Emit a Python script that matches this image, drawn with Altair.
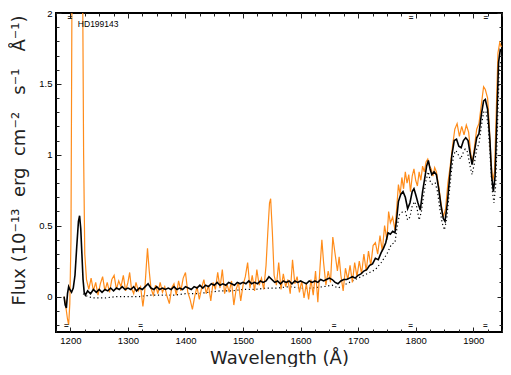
import altair as alt
import pandas as pd

# ---------------- data ----------------
star_name = "HD199143"

obs_wl = [1189, 1191, 1193, 1195, 1197, 1199, 1201, 1203, 1206, 1212, 1218, 1221, 1223, 1225, 1228,
          1232, 1236, 1240, 1244, 1248, 1252, 1256, 1260, 1264, 1268, 1272, 1276, 1280, 1284, 1288,
          1292, 1296, 1300, 1303, 1306, 1310, 1314, 1318, 1322, 1326, 1329, 1332, 1334, 1337, 1340,
          1344, 1348, 1352, 1356, 1360, 1364, 1368, 1372, 1376, 1380, 1384, 1388, 1392, 1396, 1400,
          1404, 1408, 1412, 1416, 1420, 1424, 1428, 1432, 1436, 1440, 1444, 1448, 1452, 1456, 1460,
          1464, 1468, 1472, 1476, 1480, 1484, 1488, 1492, 1496, 1500, 1504, 1508, 1512, 1516, 1520,
          1524, 1528, 1532, 1536, 1540, 1543, 1546, 1548, 1551, 1554, 1558, 1562, 1566, 1570, 1574,
          1578, 1582, 1586, 1590, 1594, 1598, 1602, 1606, 1610, 1614, 1618, 1622, 1626, 1630, 1634,
          1637, 1640, 1644, 1648, 1652, 1656, 1660, 1664, 1667, 1670, 1674, 1678, 1682, 1686, 1690,
          1694, 1698, 1702, 1706, 1710, 1714, 1718, 1722, 1726, 1730, 1734, 1738, 1742, 1746, 1750,
          1753, 1756, 1760, 1764, 1767, 1770, 1773, 1776, 1779, 1782, 1785, 1788, 1791, 1794, 1797,
          1800, 1803, 1806, 1809, 1812, 1815, 1818, 1821, 1824, 1827, 1830, 1833, 1836, 1840, 1844,
          1848, 1852, 1856, 1860, 1864, 1868, 1872, 1876, 1880, 1884, 1888, 1892, 1896, 1899, 1902,
          1906, 1910, 1914, 1918, 1921, 1925, 1928, 1931, 1934, 1937, 1940, 1943, 1946, 1949]
obs_flux = [0.00, -0.04, -0.10, -0.16, -0.20, -0.05, 0.40, 2.40, 4.00, 5.00, 4.00, 2.40, 1.00, 0.30, 0.12,
            0.05, 0.13, 0.04, 0.10, 0.01, 0.09, 0.14, 0.04, 0.10, 0.03, 0.12, 0.15, 0.05, 0.11, 0.07,
            0.15, 0.04, 0.10, 0.17, 0.06, 0.02, 0.10, 0.04, 0.07, -0.07, 0.03, 0.22, 0.34, 0.18, 0.06,
            0.01, 0.08, 0.02, 0.10, 0.03, 0.07, 0.00, -0.05, 0.06, 0.09, 0.01, 0.11, 0.04, 0.13, 0.17,
            0.03, -0.02, -0.09, 0.00, 0.07, -0.02, 0.06, 0.12, 0.02, 0.08, -0.03, 0.10, 0.05, 0.17, 0.06,
            0.19, 0.02, 0.09, 0.03, 0.11, -0.06, 0.05, 0.10, -0.03, 0.08, 0.14, 0.24, 0.06, 0.15, 0.04,
            0.19, 0.08, 0.13, 0.05, 0.22, 0.45, 0.66, 0.69, 0.45, 0.15, 0.08, 0.24, 0.05, 0.16, 0.07,
            0.12, 0.02, 0.26, 0.09, 0.14, 0.03, 0.11, -0.01, 0.09, -0.02, 0.12, 0.01, 0.18, -0.04, 0.22,
            0.40, 0.24, 0.08, 0.18, 0.10, 0.42, 0.30, 0.18, 0.28, 0.15, 0.04, 0.20, 0.12, 0.22, 0.10,
            0.24, 0.14, 0.25, 0.16, 0.30, 0.18, 0.32, 0.22, 0.36, 0.38, 0.30, 0.43, 0.32, 0.50, 0.40,
            0.60, 0.52, 0.56, 0.47, 0.62, 0.79, 0.72, 0.84, 0.76, 0.88, 0.80, 0.86, 0.74, 0.85, 0.90,
            0.82, 0.78, 0.88, 0.82, 0.92, 0.88, 0.95, 0.97, 0.92, 0.90, 0.85, 0.91, 0.88, 0.78, 0.66,
            0.56, 0.62, 0.80, 0.92, 1.06, 1.18, 1.22, 1.13, 1.20, 1.14, 1.21, 1.16, 1.00, 0.95, 1.05,
            1.18, 1.22, 1.35, 1.48, 1.46, 1.40, 1.20, 0.95, 0.82, 0.88, 1.30, 1.72, 1.79, 1.76]

smooth_wl = [1189, 1191, 1193, 1195, 1197, 1199, 1202, 1205, 1208, 1211, 1214, 1216, 1218, 1220, 1222,
             1224, 1226, 1230, 1235, 1240, 1245, 1250, 1255, 1260, 1265, 1270, 1275, 1280, 1285, 1290,
             1295, 1300, 1305, 1310, 1315, 1320, 1325, 1330, 1335, 1340, 1345, 1350, 1355, 1360, 1365,
             1370, 1375, 1380, 1385, 1390, 1395, 1400, 1405, 1410, 1415, 1420, 1425, 1430, 1435, 1440,
             1445, 1450, 1455, 1460, 1465, 1470, 1475, 1480, 1485, 1490, 1495, 1500, 1505, 1510, 1515,
             1520, 1525, 1530, 1535, 1540, 1545, 1550, 1555, 1560, 1565, 1570, 1575, 1580, 1585, 1590,
             1595, 1600, 1605, 1610, 1615, 1620, 1625, 1630, 1635, 1640, 1645, 1650, 1655, 1660, 1665,
             1670, 1675, 1680, 1685, 1690, 1695, 1700, 1705, 1710, 1715, 1720, 1725, 1730, 1735, 1740,
             1744, 1748, 1752, 1756, 1760, 1764, 1767, 1770, 1774, 1778, 1782, 1786, 1790, 1794, 1797,
             1800, 1804, 1808, 1812, 1816, 1819, 1822, 1825, 1828, 1832, 1836, 1840, 1844, 1848, 1851,
             1855, 1859, 1863, 1867, 1871, 1875, 1879, 1883, 1887, 1891, 1895, 1898, 1902, 1906, 1910,
             1914, 1918, 1921, 1925, 1929, 1932, 1935, 1938, 1941, 1944, 1947, 1950]
smooth_flux = [0.00, -0.06, -0.08, 0.02, 0.07, 0.05, 0.03, 0.06, 0.15, 0.35, 0.53, 0.57, 0.48, 0.30, 0.12,
               0.03, 0.01, 0.04, 0.02, 0.05, 0.03, 0.05, 0.03, 0.05, 0.04, 0.06, 0.04, 0.06, 0.05, 0.07,
               0.05, 0.06, 0.05, 0.07, 0.04, 0.06, 0.05, 0.07, 0.09, 0.06, 0.05, 0.07, 0.05, 0.06, 0.05,
               0.06, 0.05, 0.07, 0.05, 0.06, 0.05, 0.07, 0.06, 0.05, 0.07, 0.06, 0.08, 0.06, 0.08, 0.07,
               0.09, 0.08, 0.10, 0.08, 0.09, 0.08, 0.10, 0.09, 0.08, 0.10, 0.09, 0.10, 0.09, 0.11, 0.09,
               0.10, 0.09, 0.11, 0.10, 0.11, 0.14, 0.12, 0.10, 0.11, 0.09, 0.11, 0.10, 0.11, 0.09, 0.11,
               0.10, 0.11, 0.10, 0.09, 0.11, 0.10, 0.11, 0.10, 0.12, 0.11, 0.12, 0.13, 0.12, 0.10, 0.09,
               0.11, 0.12, 0.12, 0.13, 0.14, 0.13, 0.15, 0.16, 0.18, 0.19, 0.22, 0.23, 0.27, 0.26, 0.31,
               0.34, 0.38, 0.45, 0.44, 0.46, 0.45, 0.55, 0.67, 0.72, 0.74, 0.70, 0.62, 0.66, 0.74, 0.76,
               0.72, 0.66, 0.61, 0.74, 0.84, 0.92, 0.96, 0.90, 0.86, 0.88, 0.86, 0.76, 0.64, 0.55, 0.53,
               0.66, 0.84, 1.00, 1.10, 1.11, 1.06, 1.05, 1.10, 1.12, 1.10, 1.00, 0.93, 1.02, 1.12, 1.15,
               1.28, 1.38, 1.39, 1.32, 1.10, 0.85, 0.74, 0.85, 1.25, 1.65, 1.74, 1.73]

model_wl = [1222, 1230, 1240, 1260, 1280, 1300, 1320, 1340, 1360, 1380, 1400, 1420, 1440, 1460, 1480,
            1500, 1520, 1540, 1560, 1580, 1600, 1620, 1640, 1655, 1665, 1675, 1690, 1700, 1710, 1720,
            1730, 1740, 1750, 1758, 1764, 1768, 1772, 1778, 1782, 1786, 1790, 1794, 1798, 1802, 1806,
            1810, 1814, 1818, 1822, 1826, 1830, 1834, 1838, 1842, 1846, 1850, 1854, 1858, 1862, 1866,
            1870, 1874, 1878, 1882, 1886, 1890, 1894, 1898, 1902, 1906, 1910, 1914, 1918, 1922, 1926,
            1930, 1933, 1936, 1939, 1942, 1945, 1948]
model_flux = [0.02, 0.00, -0.01, -0.01, 0.00, 0.00, 0.00, 0.01, 0.01, 0.01, 0.02, 0.02, 0.03, 0.04, 0.04,
              0.05, 0.05, 0.06, 0.06, 0.07, 0.06, 0.06, 0.07, 0.08, 0.06, 0.08, 0.11, 0.13, 0.15, 0.17,
              0.19, 0.24, 0.30, 0.37, 0.38, 0.50, 0.58, 0.60, 0.60, 0.54, 0.56, 0.64, 0.67, 0.63, 0.54,
              0.60, 0.72, 0.82, 0.88, 0.80, 0.79, 0.80, 0.74, 0.62, 0.52, 0.47, 0.55, 0.72, 0.88, 1.00,
              1.03, 1.00, 0.97, 1.01, 1.04, 1.02, 0.93, 0.86, 0.94, 1.04, 1.08, 1.20, 1.30, 1.31, 1.20,
              0.95, 0.75, 0.66, 0.78, 1.18, 1.58, 1.67]

flag_bottom_wl = [1193, 1322, 1658, 1791, 1921]
flag_top_wl = [1199, 1792, 1922]

x_major = [1200, 1300, 1400, 1500, 1600, 1700, 1800, 1900]
x_minor = [1175 + 25 * i for i in range(32)]
y_major = [0, 0.5, 1, 1.5, 2]
y_minor = [round(-0.2 + 0.1 * i, 1) for i in range(23)]

# ---------------- layout ----------------
W, H = 446, 319
xs = alt.Scale(domain=[1175, 1950], nice=False, zero=False)
ys = alt.Scale(domain=[-0.25, 2], nice=False, zero=False)
LABEL_FONT = "Liberation Sans"
TITLE_FONT = "DejaVu Sans"
NB = "\u00a0"

obs_df = pd.DataFrame({"wl": obs_wl, "flux": obs_flux})
smooth_df = pd.DataFrame({"wl": smooth_wl, "flux": smooth_flux})
model_df = pd.DataFrame({"wl": model_wl, "flux": model_flux})
fb_df = pd.DataFrame({"wl": flag_bottom_wl, "flux": [-0.208] * len(flag_bottom_wl)})
ft_df = pd.DataFrame({"wl": flag_top_wl, "flux": [1.965] * len(flag_top_wl)})
name_df = pd.DataFrame({"wl": [1213], "flux": [1.92], "t": [star_name]})

y_title = ("Flux (10⁻¹³" + NB * 2 + "erg" + NB * 2 + "cm⁻²" + NB * 3 + "s⁻¹"
           + NB * 3 + "Å⁻¹)")


def tick_axis(orient, values, size, offset):
    return alt.Axis(orient=orient, values=values, tickSize=size, offset=offset,
                    labels=False, domain=False, grid=False, title=None,
                    tickColor="#222", tickWidth=1)


x_label_axis = alt.Axis(orient="bottom", values=x_major, format="d", ticks=False, domain=False,
                        grid=False, labelFont=LABEL_FONT, labelFontSize=9.5, labelColor="black",
                        labelPadding=3, title="Wavelength (Å)", titleFont=TITLE_FONT,
                        titleFontSize=18, titleFontWeight="normal", titleColor="#222",
                        titleX=W / 2, titleY=31, titleBaseline="alphabetic", titleAlign="center")
y_label_axis = alt.Axis(orient="left", values=y_major, labelExpr="datum.value", ticks=False,
                        domain=False, grid=False, labelFont=LABEL_FONT, labelFontSize=9.5,
                        labelColor="black", labelPadding=4,
                        title=y_title, titleFont=TITLE_FONT,
                        titleFontSize=18, titleFontWeight="normal", titleColor="#222",
                        titleAngle=-90, titleX=-32, titleY=292, titleAlign="left",
                        titleBaseline="alphabetic")

model = alt.Chart(model_df).mark_line(color="black", strokeWidth=1.2, strokeDash=[1.2, 2.6],
                                      clip=True).encode(
    x=alt.X("wl:Q", scale=xs, axis=x_label_axis),
    y=alt.Y("flux:Q", scale=ys, axis=y_label_axis),
)

obs = alt.Chart(obs_df).mark_line(color="#ff8c1a", strokeWidth=1.2, clip=True).encode(
    x=alt.X("wl:Q", scale=xs, axis=tick_axis("top", x_major, 5, -H)),
    y=alt.Y("flux:Q", scale=ys, axis=tick_axis("right", y_major, 5, -W)),
)

smooth = alt.Chart(smooth_df).mark_line(color="black", strokeWidth=1.6, clip=True).encode(
    x=alt.X("wl:Q", scale=xs, axis=tick_axis("bottom", x_major, 5, -H)),
    y=alt.Y("flux:Q", scale=ys, axis=tick_axis("left", y_major, 5, -W)),
)

name = alt.Chart(name_df).mark_text(align="left", baseline="middle", font=LABEL_FONT,
                                    fontSize=8.5, color="black").encode(
    x=alt.X("wl:Q", scale=xs, axis=tick_axis("top", x_minor, 3, -H)),
    y=alt.Y("flux:Q", scale=ys, axis=tick_axis("right", y_minor, 3, -W)),
    text="t:N",
)

flags_b = alt.Chart(fb_df).mark_text(text="=", fontSize=8, fontWeight="bold", color="#222",
                                     baseline="middle").encode(
    x=alt.X("wl:Q", scale=xs, axis=tick_axis("bottom", x_minor, 3, -H)),
    y=alt.Y("flux:Q", scale=ys, axis=tick_axis("left", y_minor, 3, -W)),
)

flags_t = alt.Chart(ft_df).mark_text(text="=", fontSize=8, fontWeight="bold", color="#222",
                                     baseline="middle").encode(
    x=alt.X("wl:Q", scale=xs, axis=None),
    y=alt.Y("flux:Q", scale=ys, axis=None),
)

chart = alt.layer(model, obs, smooth, name, flags_b, flags_t).resolve_axis(
    x="independent", y="independent"
).properties(
    width=W, height=H,
    padding={"left": 48, "top": 5, "right": 1, "bottom": 35},
    autosize=alt.AutoSizeParams(type="none"),
    background="white",
).configure_view(stroke="black", strokeWidth=2)

chart.save("out.html", embed_options={"renderer": "svg", "actions": False})
